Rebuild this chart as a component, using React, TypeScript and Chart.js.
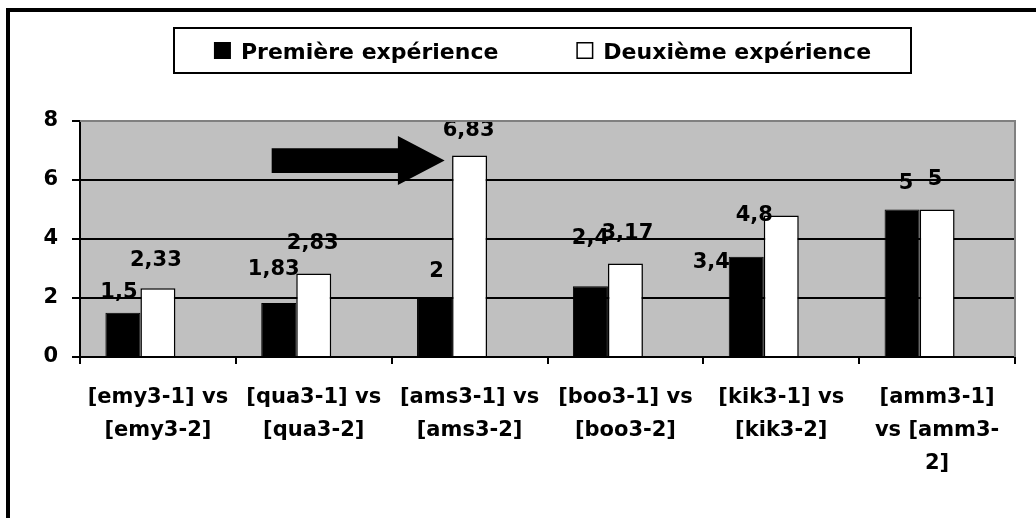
import React, { useEffect, useRef } from "react";
import { Chart, registerables } from "chart.js";

Chart.register(...registerables);

// ---------- data ----------
const CATEGORIES: string[][] = [
  ["[emy3-1] vs", "[emy3-2]"],
  ["[qua3-1] vs", "[qua3-2]"],
  ["[ams3-1] vs", "[ams3-2]"],
  ["[boo3-1] vs", "[boo3-2]"],
  ["[kik3-1] vs", "[kik3-2]"],
  ["[amm3-1]", "vs [amm3-", "2]"],
];
const SERIES_NAMES = ["Première expérience", "Deuxième expérience"];
const PREMIERE = [1.5, 1.83, 2, 2.4, 3.4, 5];
const DEUXIEME = [2.33, 2.83, 6.83, 3.17, 4.8, 5];
const EMPTY_SERIES = [null, null, null, null, null, null];
const Y_MIN = 0;
const Y_MAX = 8;
const Y_STEP = 2;

// ---------- styling / annotation geometry ----------
const FONT = '"DejaVu Sans", "Liberation Sans", sans-serif';
// label nudges [dx, dy] relative to bar top centre (pixels)
const LABEL_NUDGE_1: number[][] = [
  [-4, -20], [-5, -33], [2, -26], [0, -48], [-35, 6], [4, -26],
];
const LABEL_NUDGE_2: number[][] = [
  [-2, -28], [-1, -30], [-1, -25], [2, -30], [-27, 0], [-2, -30],
];
// arrow in data coordinates (x = category index, y = value)
const ARROW = {
  tailX: 0.73,
  headBaseX: 1.54,
  tipX: 1.84,
  shaftTop: 7.08,
  shaftBottom: 6.24,
  headTop: 7.49,
  headBottom: 5.83,
  tipY: 6.66,
};

const fmt = (v: number) => String(v).replace(".", ",");

const decorPlugin = {
  id: "decor",
  beforeDraw(chart: any) {
    const { ctx, chartArea } = chart;
    ctx.save();
    ctx.fillStyle = "#ffffff";
    ctx.fillRect(0, 0, chart.width, chart.height);
    // outer frame (left + top visible)
    ctx.fillStyle = "#000000";
    ctx.fillRect(6, 8, 4, chart.height - 8);
    ctx.fillRect(6, 8, chart.width - 6, 4);
    // plot background
    ctx.fillStyle = "#c0c0c0";
    ctx.fillRect(chartArea.left, chartArea.top, chartArea.right - chartArea.left, chartArea.bottom - chartArea.top);
    ctx.restore();
  },
  afterDraw(chart: any) {
    const { ctx, chartArea } = chart;
    ctx.save();
    // plot border right/top (grey)
    ctx.strokeStyle = "#808080";
    ctx.lineWidth = 2;
    ctx.beginPath();
    ctx.moveTo(chartArea.left, chartArea.top);
    ctx.lineTo(chartArea.right, chartArea.top);
    ctx.lineTo(chartArea.right, chartArea.bottom);
    ctx.stroke();

    // legend box
    const boxL = 173, boxT = 27, boxR = 912, boxB = 74;
    ctx.fillStyle = "#ffffff";
    ctx.fillRect(boxL, boxT, boxR - boxL, boxB - boxT);
    ctx.strokeStyle = "#000000";
    ctx.lineWidth = 2;
    ctx.strokeRect(boxL + 1, boxT + 1, boxR - boxL - 2, boxB - boxT - 2);
    ctx.font = `bold 22px ${FONT}`;
    ctx.textBaseline = "alphabetic";
    ctx.textAlign = "left";
    const sq = 17, gap = 10, between = 78;
    const w1 = ctx.measureText(SERIES_NAMES[0]).width;
    const w2 = ctx.measureText(SERIES_NAMES[1]).width;
    const total = sq + gap + w1 + between + sq + gap + w2;
    let x = (boxL + boxR) / 2 - total / 2;
    const cy = (boxT + boxB) / 2;
    ctx.fillStyle = "#000000";
    ctx.fillRect(x, cy - sq / 2, sq, sq);
    ctx.fillText(SERIES_NAMES[0], x + sq + gap, cy + 8);
    x += sq + gap + w1 + between;
    ctx.fillStyle = "#ffffff";
    ctx.fillRect(x, cy - sq / 2, sq, sq);
    ctx.lineWidth = 1.5;
    ctx.strokeStyle = "#000000";
    ctx.strokeRect(x + 0.75, cy - sq / 2 + 0.75, sq - 1.5, sq - 1.5);
    ctx.fillStyle = "#000000";
    ctx.fillText(SERIES_NAMES[1], x + sq + gap, cy + 8);
    ctx.restore();
  },
  afterDatasetsDraw(chart: any) {
    const { ctx, scales } = chart;
    ctx.save();
    // value labels
    ctx.font = `bold 21px ${FONT}`;
    ctx.fillStyle = "#000000";
    ctx.textAlign = "center";
    ctx.textBaseline = "middle";
    const nudges = [LABEL_NUDGE_1, LABEL_NUDGE_2];
    [0, 1].forEach((di) => {
      const meta = chart.getDatasetMeta(di);
      const vals = chart.data.datasets[di].data as number[];
      meta.data.forEach((bar: any, j: number) => {
        const [dx, dy] = nudges[di][j];
        ctx.fillText(fmt(vals[j]), bar.x + dx, bar.y + dy);
      });
    });
    // arrow
    const px = (v: number) => scales.x.getPixelForValue(v);
    const py = (v: number) => scales.y.getPixelForValue(v);
    ctx.beginPath();
    ctx.moveTo(px(ARROW.tailX), py(ARROW.shaftTop));
    ctx.lineTo(px(ARROW.headBaseX), py(ARROW.shaftTop));
    ctx.lineTo(px(ARROW.headBaseX), py(ARROW.headTop));
    ctx.lineTo(px(ARROW.tipX), py(ARROW.tipY));
    ctx.lineTo(px(ARROW.headBaseX), py(ARROW.headBottom));
    ctx.lineTo(px(ARROW.headBaseX), py(ARROW.shaftBottom));
    ctx.lineTo(px(ARROW.tailX), py(ARROW.shaftBottom));
    ctx.closePath();
    ctx.fillStyle = "#000000";
    ctx.fill();
    ctx.restore();
  },
};

export default function App() {
  const canvasRef = useRef<HTMLCanvasElement | null>(null);

  useEffect(() => {
    if (!canvasRef.current) return;
    const chart = new Chart(canvasRef.current, {
      type: "bar",
      data: {
        labels: CATEGORIES,
        datasets: [
          {
            label: SERIES_NAMES[0],
            data: PREMIERE,
            backgroundColor: "#000000",
            borderColor: "#000000",
            borderWidth: 1,
          },
          {
            label: SERIES_NAMES[1],
            data: DEUXIEME,
            backgroundColor: "#ffffff",
            borderColor: "#000000",
            borderWidth: 1.5,
          },
          {
            label: "",
            data: EMPTY_SERIES as any,
            backgroundColor: "rgba(0,0,0,0)",
          },
        ],
      },
      options: {
        animation: false,
        responsive: true,
        maintainAspectRatio: false,
        layout: { padding: { left: 0, top: 121, right: 21, bottom: 0 } },
        datasets: { bar: { categoryPercentage: 0.674, barPercentage: 1.0 } },
        plugins: {
          legend: { display: false },
          tooltip: { enabled: false },
          title: { display: false },
        },
        scales: {
          x: {
            type: "category",
            offset: true,
            grid: {
              offset: true,
              drawOnChartArea: false,
              drawTicks: true,
              tickLength: 7,
              tickColor: "#000000",
              tickWidth: 2,
              color: "#000000",
              lineWidth: 2,
            },
            border: { display: true, color: "#000000", width: 2 },
            ticks: {
              color: "#000000",
              font: { family: FONT, size: 21, weight: "bold", lineHeight: 1.57 },
              padding: 17,
              maxRotation: 0,
              minRotation: 0,
              autoSkip: false,
            },
            afterFit(scale: any) {
              scale.height = 161;
            },
          },
          y: {
            min: Y_MIN,
            max: Y_MAX,
            ticks: {
              stepSize: Y_STEP,
              color: "#000000",
              font: { family: FONT, size: 21, weight: "bold" },
              padding: 14,
            },
            grid: {
              color: (c: any) => (c.tick && c.tick.value === Y_MAX ? "#808080" : "#000000"),
              tickColor: "#000000",
              lineWidth: 2,
              tickLength: 8,
            },
            border: { display: true, color: "#000000", width: 2 },
            afterFit(scale: any) {
              scale.width = 80;
            },
          },
        },
      },
      plugins: [decorPlugin],
    } as any);
    return () => chart.destroy();
  }, []);

  return (
    <div style={{ position: "fixed", left: 0, top: 0, width: 1036, height: 518, background: "#fff" }}>
      <canvas ref={canvasRef} />
    </div>
  );
}
